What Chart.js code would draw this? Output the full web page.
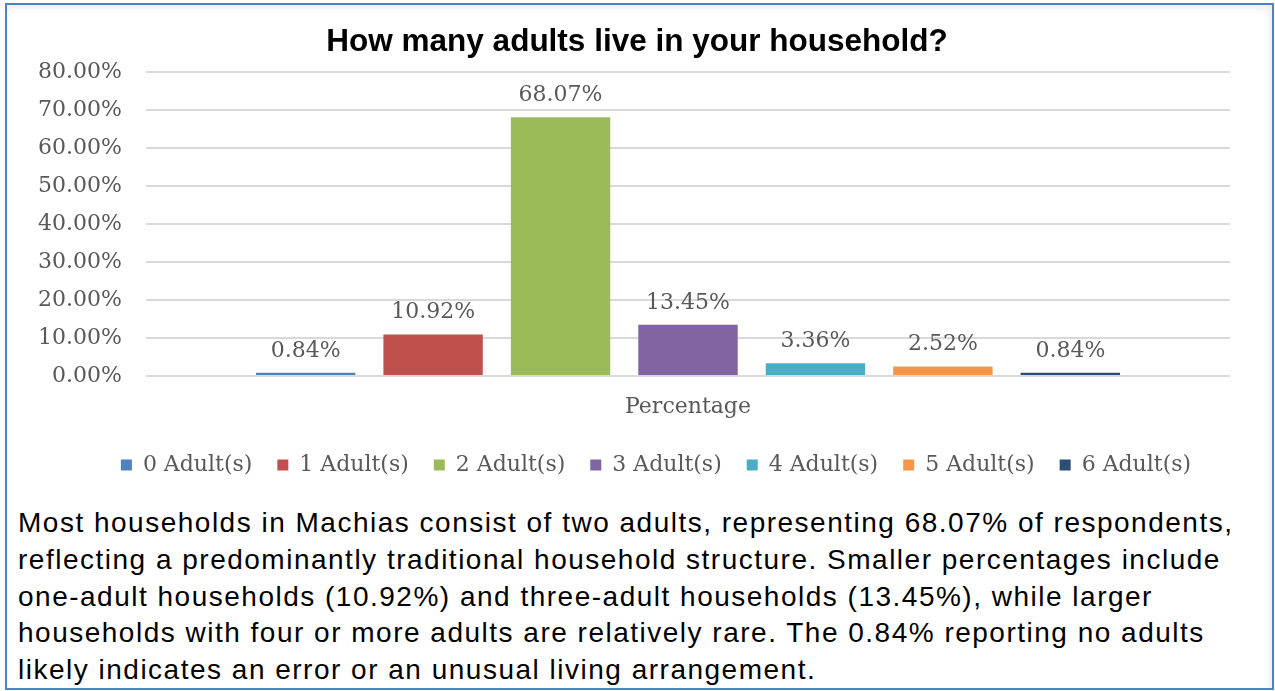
<!DOCTYPE html>
<html>
<head>
<meta charset="utf-8">
<script src="https://cdn.jsdelivr.net/npm/chart.js@4.4.1/dist/chart.umd.min.js"></script>
<style>
  html, body { margin: 0; padding: 0; background: #ffffff; width: 1275px; height: 691px; overflow: hidden; }
  #frame { position: absolute; left: 5px; top: 3px; width: 1269px; height: 687px; box-sizing: border-box;
           border: 2px solid #4f81c7; box-shadow: inset -3px 4px 6px rgba(0,0,0,0.07); }
  #wrap { position: absolute; left: 0; top: 0; width: 1275px; height: 500px; }
  #para { position: absolute; left: 18px; top: 505px; width: 1250px; margin: 0;
          font-family: "Liberation Sans", Arial, sans-serif; font-size: 28px; letter-spacing: 1.5px; line-height: 36.8px; color: #000; white-space: nowrap; }
</style>
</head>
<body>
<div id="frame"></div>
<div id="wrap"><canvas id="c" width="1275" height="500"></canvas></div>
<p id="para">Most households in Machias consist of two adults, representing 68.07% of respondents,<br>reflecting a predominantly traditional household structure. Smaller percentages include<br>one-adult households (10.92%) and three-adult households (13.45%), while larger<br>households with four or more adults are relatively rare. The 0.84% reporting no adults<br>likely indicates an error or an unusual living arrangement.</p>
<script>
const categories = ["Percentage"];
const seriesNames = ["0 Adult(s)", "1 Adult(s)", "2 Adult(s)", "3 Adult(s)", "4 Adult(s)", "5 Adult(s)", "6 Adult(s)"];
const seriesValues = [0.84, 10.92, 68.07, 13.45, 3.36, 2.52, 0.84];
const seriesColors = ["#4f81bd", "#c0504d", "#9bbb59", "#8064a2", "#4bacc6", "#f79646", "#2c4d75"];
const yTicks = { min: 0, max: 80, step: 10 };
const titleText = "How many adults live in your household?";

const serif = "'DejaVu Serif', serif";
const grey = "#595959";

const labelPlugin = {
  id: "barLabels",
  afterDatasetsDraw(chart) {
    const ctx = chart.ctx;
    ctx.save();
    ctx.font = "22px " + serif;
    ctx.fillStyle = grey;
    ctx.textAlign = "center";
    ctx.textBaseline = "middle";
    chart.data.datasets.forEach((ds, i) => {
      const meta = chart.getDatasetMeta(i);
      meta.data.forEach((el, j) => {
        ctx.fillText(ds.data[j].toFixed(2) + "%", el.x, el.y - 22);
      });
    });
    ctx.restore();
  }
};

const boxShift = {
  id: "boxShift",
  afterLayout(chart) {
    const lg = chart.legend;
    if (lg) { lg.left += 41; lg.right += 41; }
    const tt = chart.titleBlock;
    if (tt) { tt.left += 22; tt.right += 22; }
  }
};

new Chart(document.getElementById("c"), {
  type: "bar",
  data: {
    labels: categories,
    datasets: seriesNames.map((n, i) => ({
      label: n,
      data: [seriesValues[i]],
      backgroundColor: seriesColors[i],
      borderWidth: 0,
      categoryPercentage: 0.823,
      barPercentage: 0.78
    }))
  },
  options: {
    responsive: false,
    animation: false,
    devicePixelRatio: 1,
    layout: { padding: { left: 0, right: 45, top: 17, bottom: 14 } },
    plugins: {
      title: {
        display: true, text: titleText, color: "#000",
        font: { family: "'Liberation Sans', Arial, sans-serif", size: 31.5, weight: "bold" },
        padding: { top: 6, bottom: 11 }
      },
      legend: {
        position: "bottom",
        labels: {
          boxWidth: 11, boxHeight: 11, padding: 25, color: grey,
          font: { family: serif, size: 22 }
        }
      },
      tooltip: { enabled: false }
    },
    scales: {
      x: {
        grid: { display: false },
        border: { display: false },
        ticks: { color: grey, font: { family: serif, size: 22 }, padding: 10 },
        afterFit(s) { s.height = 53; }
      },
      y: {
        min: yTicks.min, max: yTicks.max,
        grid: { color: "#d9d9d9", lineWidth: 2, drawTicks: false },
        border: { display: false },
        ticks: {
          stepSize: yTicks.step, color: grey, padding: 24,
          font: { family: serif, size: 22 },
          callback: v => v.toFixed(2) + "%"
        },
        afterFit(s) { s.width = 146; }
      }
    }
  },
  plugins: [labelPlugin, boxShift]
});
</script>
</body>
</html>
